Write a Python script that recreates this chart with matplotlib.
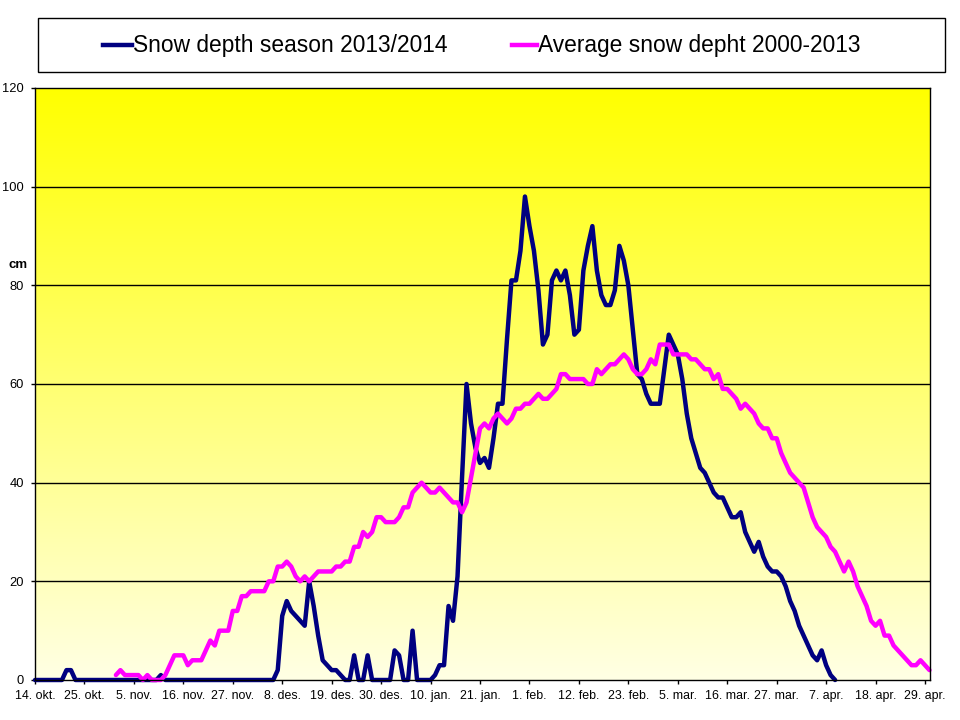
import numpy as np
import matplotlib
matplotlib.use("Agg")
import matplotlib.pyplot as plt
from matplotlib import font_manager
from matplotlib.lines import Line2D
from matplotlib.patches import Rectangle

# ---------------- data ----------------
# x index: 0 = 14. okt. ... 199 = 30. apr. (calendar incl. 29. feb.)
season_start = 0
season_values = (
    [0] * 7 + [2, 2] + [0] * 19 + [1] + [0] * 25 +
    [2, 13, 16, 14, 13, 12, 11, 20, 15, 9, 4, 3, 2, 2, 1, 0, 0, 5, 0, 0,
     5, 0, 0, 0, 0, 0, 6, 5, 0, 0, 10, 0, 0, 0, 0, 1, 3, 3, 15, 12,
     21, 41, 60, 52, 47, 44, 45, 43, 49, 56, 56, 69, 81, 81, 87, 98, 92, 87, 79, 68,
     70, 81, 83, 81, 83, 78, 70, 71, 83, 88, 92, 83, 78, 76, 76, 79, 88, 85, 80, 71,
     62, 61, 58, 56, 56, 56, 63, 70, 68, 66, 61, 54, 49, 46, 43, 42, 40, 38, 37, 37,
     35, 33, 33, 34, 30, 28, 26, 28, 25, 23, 22, 22, 21, 19, 16, 14, 11, 9, 7, 5,
     4, 6, 3, 1, 0]
)

average_start = 18
average_values = [
    1, 2, 1, 1, 1, 1, 0, 1, 0, 0, 0, 1, 3, 5, 5, 5, 3, 4, 4, 4,
    6, 8, 7, 10, 10, 10, 14, 14, 17, 17, 18, 18, 18, 18,
    20, 20, 23, 23, 24, 23, 21, 20, 21, 20, 21, 22, 22, 22, 22, 23, 23, 24, 24, 27,
    27, 30, 29, 30, 33, 33, 32, 32, 32, 33, 35, 35, 38, 39, 40, 39, 38, 38, 39, 38,
    37, 36, 36, 34, 36, 41, 46, 51, 52, 51, 53, 54, 53, 52, 53, 55, 55, 56, 56, 57,
    58, 57, 57, 58, 59, 62, 62, 61, 61, 61, 61, 60, 60, 63, 62, 63, 64, 64, 65, 66,
    65, 63, 62, 62, 63, 65, 64, 68, 68, 68, 66, 66, 66, 66, 65, 65, 64, 63, 63, 61,
    62, 59, 59, 58, 57, 55, 56, 55, 54, 52, 51, 51, 49, 49, 46, 44, 42, 41, 40, 39,
    36, 33, 31, 30, 29, 27, 26, 24, 22, 24, 22, 19, 17, 15, 12, 11, 12, 9, 9, 7,
    6, 5, 4, 3, 3, 4, 3, 2]

tick_positions = list(range(0, 199, 11))
tick_labels = ["14. okt.", "25. okt.", "5. nov.", "16. nov.", "27. nov.", "8. des.",
               "19. des.", "30. des.", "10. jan.", "21. jan.", "1. feb.", "12. feb.",
               "23. feb.", "5. mar.", "16. mar.", "27. mar.", "7. apr.", "18. apr.",
               "29. apr."]
y_ticks = [0, 20, 40, 60, 80, 100, 120]

series_labels = ["Snow depth season 2013/2014", "Average snow depht 2000-2013"]
series_colors = ["#000080", "#FF00FF"]

# ---------------- fonts ----------------
names = {f.name for f in font_manager.fontManager.ttflist}
regular = "Liberation Sans" if "Liberation Sans" in names else "DejaVu Sans"
has_narrow = "Liberation Sans Narrow" in names
narrow = "Liberation Sans Narrow" if has_narrow else regular
legend_size = 20 if has_narrow else 16.4
xtick_size = 10.5 if has_narrow else 8.9

W, H = 960, 720
fig = plt.figure(figsize=(W / 100, H / 100), dpi=100, facecolor="white")

def px(x0, y0, x1, y1):
    return [x0 / W, 1 - y1 / H, (x1 - x0) / W, (y1 - y0) / H]

ax = fig.add_axes(px(35, 88, 929.5, 680))

# gradient background
grad = np.linspace(0, 1, 256).reshape(-1, 1)
top = np.array([255, 255, 0]) / 255
bot = np.array([255, 255, 228]) / 255
img = top[None, None, :] * (1 - grad[:, :, None]) + bot[None, None, :] * grad[:, :, None]
ax.imshow(img, extent=[0, 1, 0, 1], transform=ax.transAxes, aspect="auto", zorder=0)

x_season = np.arange(season_start, season_start + len(season_values))
x_avg = np.arange(average_start, average_start + len(average_values))
l1, = ax.plot(x_season, season_values, color=series_colors[0], lw=3.2,
              solid_joinstyle="round", solid_capstyle="round", zorder=3,
              label=series_labels[0], clip_on=False)
l2, = ax.plot(x_avg, average_values, color=series_colors[1], lw=3.2,
              solid_joinstyle="round", solid_capstyle="round", zorder=4,
              label=series_labels[1], clip_on=False)

ax.set_xlim(0, 199)
ax.set_ylim(0, 120)
ax.set_yticks(y_ticks)
ax.set_yticklabels([str(v) for v in y_ticks], fontfamily=regular, fontsize=9.3)
ax.set_xticks(tick_positions)
ax.set_xticklabels(tick_labels, fontfamily=narrow, fontsize=xtick_size)
ax.tick_params(axis="y", direction="out", length=3, width=1, pad=5, colors="black")
ax.tick_params(axis="x", direction="out", length=3, width=1, pad=4, colors="black")
for ysv in y_ticks[1:-1]:
    ax.axhline(ysv, color="black", lw=1.0, zorder=1)
for s in ax.spines.values():
    s.set_color("black")
    s.set_linewidth(1.0)
    s.set_zorder(5)

fig.text(18 / W, 1 - 265 / H, "cm", fontfamily=regular, fontsize=9.5,
         fontweight="bold", ha="center", va="center")

# legend box
fig.patches.append(Rectangle((38 / W, 1 - 72 / H), 907 / W, 54 / H,
                             transform=fig.transFigure, fill=False,
                             edgecolor="black", lw=1.0))
for (hx0, hx1, tx), line in zip([(103, 132, 133), (512, 537, 538)], [l1, l2]):
    fig.lines.append(Line2D([hx0 / W, hx1 / W], [1 - 45 / H, 1 - 45 / H],
                            transform=fig.transFigure, color=line.get_color(), lw=3.2))
    fig.text(tx / W, 1 - 52 / H, line.get_label(), fontfamily=narrow,
             fontsize=legend_size, ha="left", va="baseline")

fig.savefig("out.png", dpi=100, facecolor="white")
